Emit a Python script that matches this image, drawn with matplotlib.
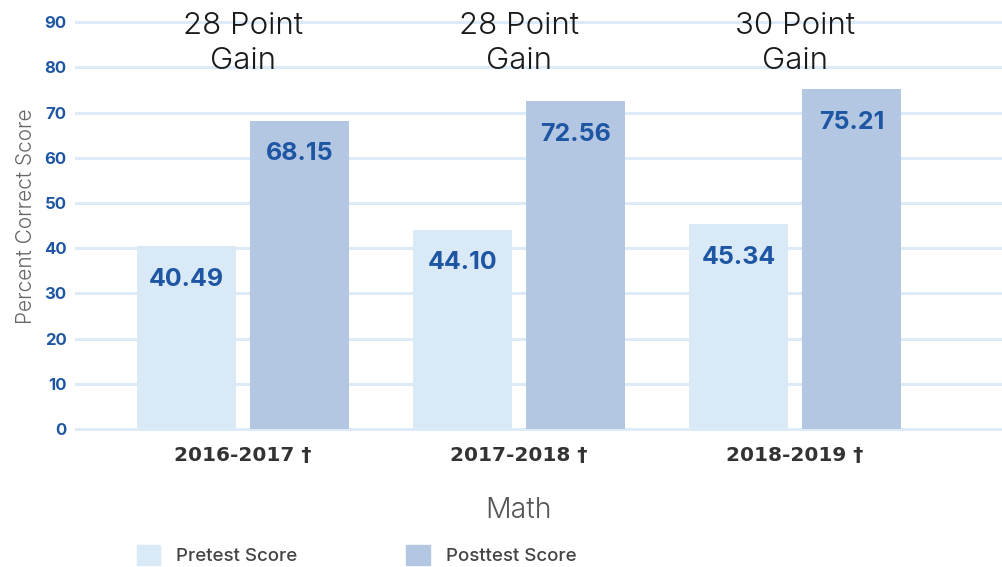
import matplotlib
matplotlib.use("Agg")
import matplotlib.pyplot as plt
import matplotlib.patches as mpatches
import numpy as np

anos = ["2016-2017 †", "2017-2018 †", "2018-2019 †"]
pretest = [40.49, 44.10, 45.34]
posttest = [68.15, 72.56, 75.21]
ganhos = ["28 Point\nGain", "28 Point\nGain", "30 Point\nGain"]
yticks = [0, 10, 20, 30, 40, 50, 60, 70, 80, 90]

cor_pre = "#d9e9f6"
cor_pos = "#b3c6e2"
cor_grade = "#dcebf7"
azul = "#1f56a3"

plt.rcParams["font.family"] = ["Inter", "DejaVu Sans"]

fig = plt.figure(figsize=(10.03, 5.67), dpi=100)
ax = fig.add_axes([0.0748, 0.238, 0.9252, 0.762])

x = np.arange(len(anos))
largura = 0.359
desloc = 0.205

b1 = ax.bar(x - desloc, pretest, largura, color=cor_pre, zorder=2)
b2 = ax.bar(x + desloc, posttest, largura, color=cor_pos, zorder=2)

for barras, vals in [(b1, pretest), (b2, posttest)]:
    for b, v in zip(barras, vals):
        ax.annotate(f"{v:.2f}", (b.get_x() + b.get_width() / 2, v),
                    xytext=(0, -33), textcoords="offset pixels",
                    ha="center", va="center", fontsize=18, fontweight=700,
                    color=azul, zorder=3)

for xi, g in zip(x, ganhos):
    ax.text(xi, 85.3, g, ha="center", va="center", fontsize=22.5,
            color="#1a1a1a", fontweight=300, linespacing=1.32, zorder=3)

ax.set_xlim(-0.609, 2.754)
ax.set_ylim(-0.66, 94.9)
ax.set_yticks(yticks)
ax.yaxis.grid(True, color=cor_grade, linewidth=2.2, zorder=0)
ax.set_axisbelow(True)
ax.set_xticks(x)
ax.set_xticklabels(anos, fontsize=14.5, color="#333333", fontweight="bold",
                   family=["DejaVu Sans"])
ax.tick_params(axis="x", length=0, pad=10)
ax.tick_params(axis="y", length=0, pad=6, labelsize=12, labelcolor=azul)
for lbl in ax.get_yticklabels():
    lbl.set_fontweight(700)
for s in ax.spines.values():
    s.set_visible(False)

ax.set_ylabel("Percent Correct Score", fontsize=15, color="#666666",
              fontweight=300, labelpad=6)
fig.text(519 / 1003, 1 - 510 / 567, "Math", ha="center", va="center",
         fontsize=20.5, color="#555555", fontweight=300)

alcas = [mpatches.Patch(color=cor_pre, label="Pretest Score"),
         mpatches.Patch(color=cor_pos, label="Posttest Score")]
leg = fig.legend(handles=alcas, loc="center left", bbox_to_anchor=(137 / 1003, 1 - 555 / 567),
                 ncol=2, frameon=False, fontsize=13.5, handlelength=1.25, handleheight=1.25,
                 handletextpad=0.85, columnspacing=5.8, borderpad=0, borderaxespad=0,
                 labelcolor="#444444")
for t in leg.get_texts():
    t.set_fontweight(500)

fig.savefig("out.png", dpi=100)
